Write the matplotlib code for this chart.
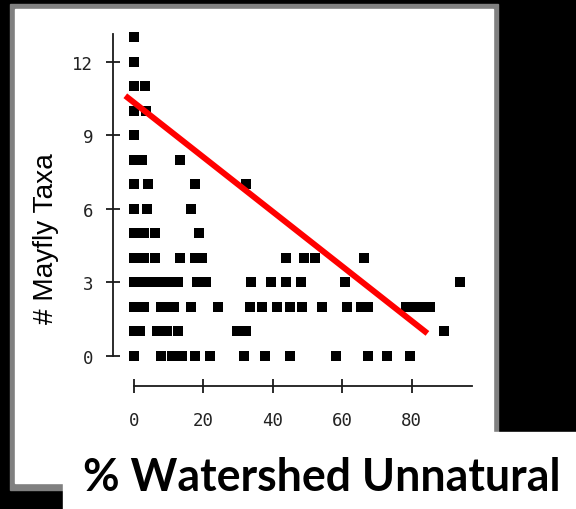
import matplotlib
matplotlib.use("Agg")
import matplotlib.pyplot as plt
from matplotlib.patches import Rectangle

# % of watershed in unnatural land use, one list per row of the scatter
pct_unnatural = [
    0,                                                              # 13 taxa
    0,                                                              # 12
    0, 3.2,                                                         # 11
    0, 3.5,                                                         # 10
    0,                                                              # 9
    0, 2.2, 13.3,                                                   # 8
    0, 4.1, 17.6, 32.2,                                             # 7
    0, 3.6, 16.4,                                                   # 6
    0, 3, 6, 18.8,                                                  # 5
    0, 3, 6.1, 13.3, 17.5, 19.5, 43.7, 49, 52, 66.1,                # 4
    0, 2.6, 5.1, 7.7, 10.2, 12.7, 18, 20.6, 33.6, 39.4, 43.7,
    48.2, 60.7, 94,                                                 # 3
    0, 3, 7.8, 9.7, 11.6, 16.4, 24.2, 33.4, 37, 41.3, 44.8, 48.5,
    54, 61.4, 65.5, 67.3, 78.2, 80.5, 82.8, 85.1,                   # 2
    0, 1.7, 6.6, 9.6, 12.7, 29.7, 32.3, 89.3,                       # 1
    0, 7.8, 10.9, 13.9, 17.5, 21.8, 31.6, 37.6, 44.8, 58.2, 67.3,
    73, 79.4,                                                       # 0
]
mayfly_taxa = (
    [13]
    + [12]
    + [11, 11]
    + [10, 10]
    + [9]
    + [8, 8, 8]
    + [7, 7, 7, 7]
    + [6, 6, 6]
    + [5, 5, 5, 5]
    + [4, 4, 4, 4, 4, 4, 4, 4, 4, 4]
    + [3, 3, 3, 3, 3, 3, 3, 3, 3, 3, 3, 3, 3, 3]
    + [2, 2, 2, 2, 2, 2, 2, 2, 2, 2, 2, 2, 2, 2, 2, 2, 2, 2, 2, 2]
    + [1, 1, 1, 1, 1, 1, 1, 1]
    + [0, 0, 0, 0, 0, 0, 0, 0, 0, 0, 0, 0, 0]
)

# regression line end points
fit_x = [-2.5, 84.5]
fit_y = [10.61, 0.91]

x_ticks = [0, 20, 40, 60, 80]
y_ticks = [0, 3, 6, 9, 12]

W, H = 576, 510
fig = plt.figure(figsize=(W / 100, H / 100), dpi=100, facecolor="black")

# slide-style background: grey framed white panel plus white title box
bg = fig.add_axes([0, 0, 1, 1])
bg.set_xlim(0, W)
bg.set_ylim(H, 0)
bg.axis("off")
bg.add_patch(Rectangle((10, 5), 488.3, 486, color="#808080"))
bg.add_patch(Rectangle((15, 10), 477.7, 474.3, color="white"))
bg.add_patch(Rectangle((63.3, 433.3), W - 63.3, H - 433.3, color="white"))

# main plot: 0 % at px 134, 3.4725 px per %; 0 taxa at px 356.7, 24.5 px per taxon
left_px, right_px, top_px, bottom_px = 100, 485, 25, 386.7
ax = fig.add_axes([left_px / W, (H - bottom_px) / H,
                   (right_px - left_px) / W, (bottom_px - top_px) / H])
ax.set_facecolor("none")
ax.set_xlim((left_px - 134) / 3.4725, (right_px - 134) / 3.4725)
ax.set_ylim((356.7 - bottom_px) / 24.5, (356.7 - top_px) / 24.5)

ax.plot(pct_unnatural, mayfly_taxa, "s", ms=7.2, mew=0, color="black", zorder=3)
ax.plot(fit_x, fit_y, color="#ff0000", lw=4.3, solid_capstyle="butt", zorder=4)

for side in ["top", "right"]:
    ax.spines[side].set_visible(False)
ax.spines["left"].set_position(("data", (112.7 - 134) / 3.4725))
ax.spines["left"].set_bounds(0, 13.13)
ax.spines["bottom"].set_bounds(0, 97.4)
for side in ["left", "bottom"]:
    ax.spines[side].set_linewidth(1.3)
    ax.spines[side].set_color("#1a1a1a")

ax.set_xticks(x_ticks)
ax.set_yticks(y_ticks)
ax.tick_params(direction="inout", width=1.3, color="#1a1a1a",
               labelcolor="#222222", labelsize=12.5)
ax.tick_params(axis="y", length=10, pad=9)
ax.tick_params(axis="x", length=9.4, pad=13.5)
for lab in ax.get_xticklabels() + ax.get_yticklabels():
    lab.set_family("DejaVu Sans Mono")

fig.text(46.5 / W, 1 - 239 / H, "# Mayfly Taxa", rotation=90, ha="center",
         va="center", fontsize=20.2, family="Liberation Sans", color="black")
fig.text(83 / W, 1 - 490.7 / H, "% Watershed Unnatural", ha="left",
         va="baseline", fontsize=32.1, fontweight="bold", family="Lato",
         color="black")

fig.savefig("out.png", dpi=100, facecolor=fig.get_facecolor())
